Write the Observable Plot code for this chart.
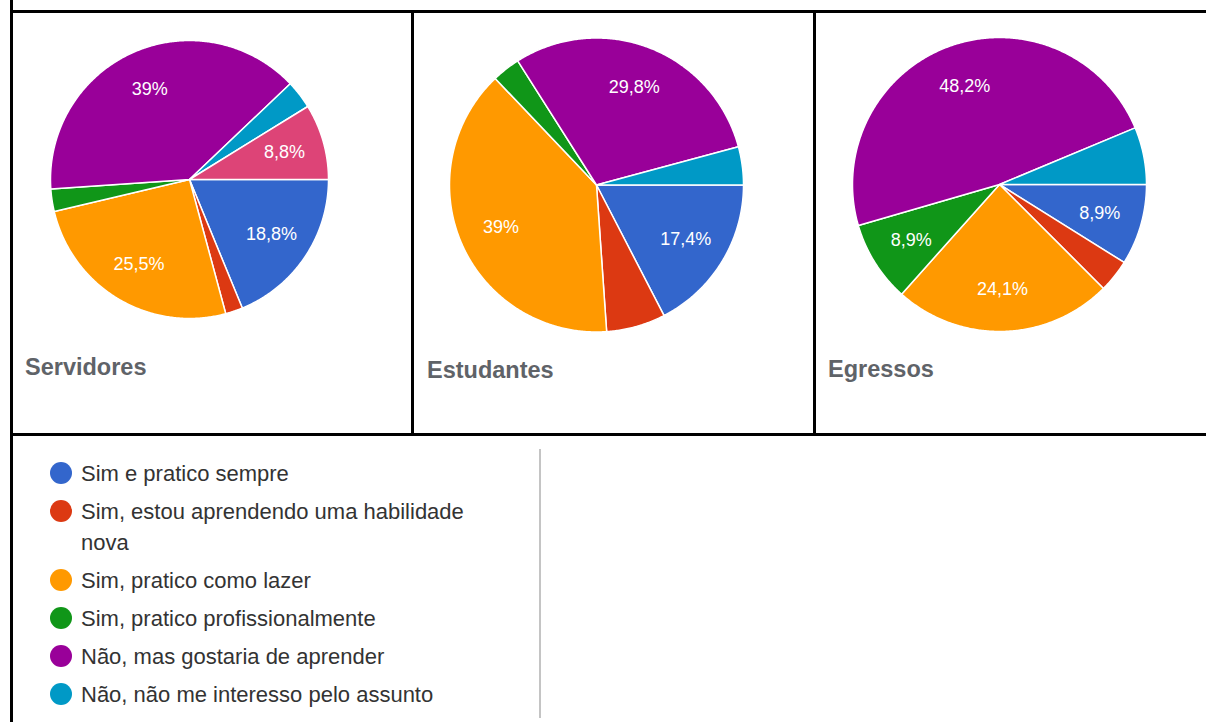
<!DOCTYPE html>
<html><head><meta charset="utf-8">
<script src="https://cdn.jsdelivr.net/npm/d3@7"></script>
<script src="https://cdn.jsdelivr.net/npm/@observablehq/plot@0.6"></script>
<style>
html,body{margin:0;padding:0;background:#fff;}
body{width:1206px;height:722px;position:relative;overflow:hidden;font-family:"Liberation Sans",Arial,sans-serif;}
.bar{position:absolute;background:#000;}
.cell{position:absolute;}
.cell svg{display:block;}
.title{position:absolute;font-weight:bold;font-size:23.5px;line-height:23.5px;color:#5f6368;white-space:nowrap;}
#legend{position:absolute;left:50px;top:457.5px;}
.item{display:flex;align-items:flex-start;margin-bottom:7px;}
.dot{width:22px;height:22px;border-radius:50%;flex:none;margin-top:4.5px;}
.lab{margin-left:9px;font-size:22px;line-height:31px;color:#333;width:400px;}
#sep{position:absolute;left:539px;top:449px;width:1.5px;height:269px;background:#c4c4c4;}
</style></head><body>
<div class="bar" style="left:10px;top:0;width:3px;height:722px"></div>
<div class="bar" style="left:10px;top:10px;width:1196px;height:3px"></div>
<div class="bar" style="left:10px;top:433px;width:1196px;height:3px"></div>
<div class="bar" style="left:411px;top:10px;width:3px;height:426px"></div>
<div class="bar" style="left:813px;top:10px;width:3px;height:426px"></div>
<div id="sep"></div>
<div id="legend"></div>
<script>
// ---- data ----
const categories = [
  "Sim e pratico sempre",
  "Sim, estou aprendendo uma habilidade nova",
  "Sim, pratico como lazer",
  "Sim, pratico profissionalmente",
  "Não, mas gostaria de aprender",
  "Não, não me interesso pelo assunto",
  "Outro"
];
const legendCategories = categories.slice(0, 6);
const colors = ["#3366cc", "#dc3912", "#ff9900", "#109618", "#990099", "#0099c6", "#dd4477"];
const groups = ["Servidores", "Estudantes", "Egressos"];
const servidores = [18.8, 2.0, 25.5, 2.6, 39, 3.3, 8.8];
const estudantes = [17.4, 6.5, 39, 3.1, 29.8, 4.2, 0];
const egressos   = [8.9, 3.6, 24.1, 8.9, 48.2, 6.3, 0];
const series = [servidores, estudantes, egressos];

// ---- layout (pixels) ----
const cells = [
  {left: 13,  top: 13, width: 398, height: 420, cx: 176, cy: 166,   r: 139, titleX: 12, titleY: 343},
  {left: 414, top: 13, width: 399, height: 420, cx: 182, cy: 171.5, r: 147, titleX: 13, titleY: 346},
  {left: 816, top: 13, width: 390, height: 420, cx: 183, cy: 171,   r: 147, titleX: 12, titleY: 345}
];

function pieChart(values, c) {
  const total = d3.sum(values);
  const slices = [];
  let acc = 0;
  values.forEach((v, i) => {
    if (v > 0) {
      const a0 = acc / total * 2 * Math.PI;
      acc += v;
      const a1 = acc / total * 2 * Math.PI;
      slices.push({cat: categories[i], value: v, a0, a1});
    }
  });
  const pts = [];
  slices.forEach((s, k) => {
    pts.push({id: k, cat: s.cat, x: 0, y: 0});
    const n = Math.max(2, Math.ceil((s.a1 - s.a0) / (Math.PI / 360)));
    for (let j = 0; j <= n; j++) {
      const a = s.a0 + (s.a1 - s.a0) * j / n;
      pts.push({id: k, cat: s.cat, x: Math.cos(a), y: Math.sin(a)});
    }
  });
  const labels = slices.filter(s => s.value >= 8).map(s => {
    const m = (s.a0 + s.a1) / 2;
    return {x: 0.71 * Math.cos(m), y: 0.71 * Math.sin(m), text: String(s.value).replace(".", ",") + "%"};
  });
  return Plot.plot({
    width: c.width, height: c.height, margin: 0,
    style: {background: "transparent", overflow: "visible"},
    x: {domain: [-1, 1], range: [c.cx - c.r, c.cx + c.r], axis: null},
    y: {domain: [-1, 1], range: [c.cy - c.r, c.cy + c.r], axis: null},
    color: {domain: categories, range: colors},
    marks: [
      Plot.line(pts, {x: "x", y: "y", z: "id", fill: "cat", stroke: "white", strokeWidth: 1.5, strokeLinejoin: "round", curve: "linear-closed"}),
      Plot.text(labels, {x: "x", y: "y", text: "text", fill: "white", fontSize: 18, fontFamily: "Liberation Sans, Arial, sans-serif", textAnchor: "middle"})
    ]
  });
}

cells.forEach((c, i) => {
  const div = document.createElement("div");
  div.className = "cell";
  div.style.left = c.left + "px"; div.style.top = c.top + "px";
  div.style.width = c.width + "px"; div.style.height = c.height + "px";
  div.appendChild(pieChart(series[i], c));
  const t = document.createElement("div");
  t.className = "title";
  t.style.left = c.titleX + "px"; t.style.top = c.titleY + "px";
  t.textContent = groups[i];
  div.appendChild(t);
  document.body.appendChild(div);
});

const legend = document.getElementById("legend");
legendCategories.forEach((cat, i) => {
  const item = document.createElement("div");
  item.className = "item";
  const dot = document.createElement("div");
  dot.className = "dot";
  dot.style.background = colors[i];
  const lab = document.createElement("div");
  lab.className = "lab";
  lab.textContent = cat;
  item.appendChild(dot); item.appendChild(lab);
  legend.appendChild(item);
});
</script>
</body></html>
